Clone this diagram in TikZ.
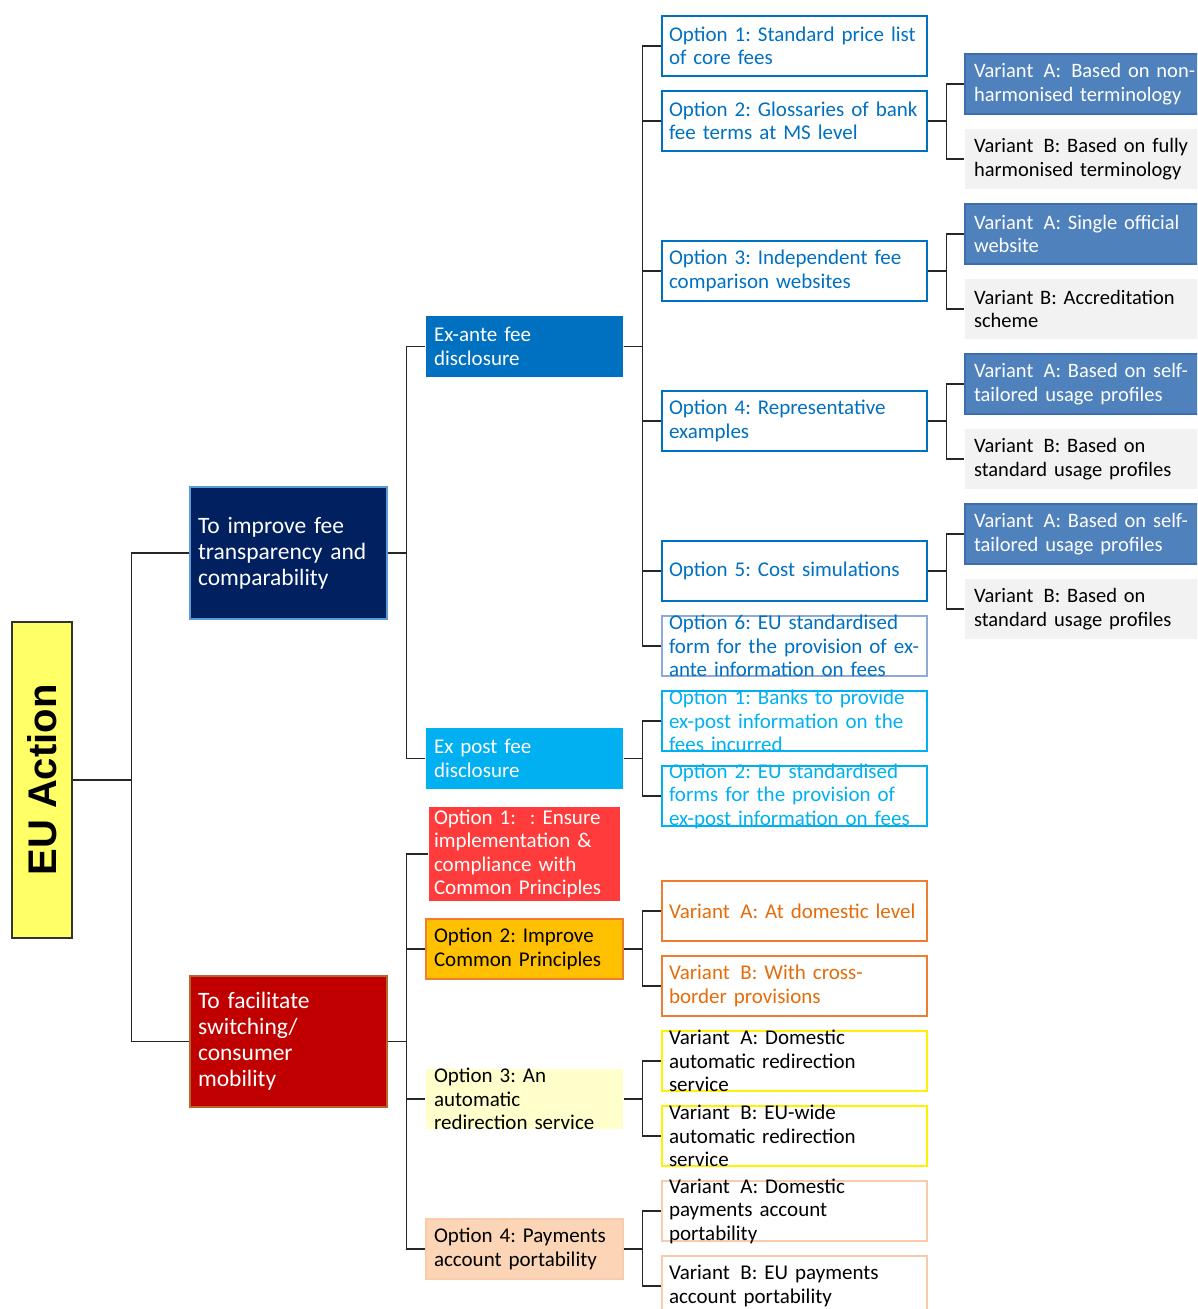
\documentclass[tikz,border=0pt]{standalone}
\usepackage{fontspec}
\setmainfont{Carlito}
\newfontfamily\eufont{Liberation Sans}
\usetikzlibrary{positioning}
\frenchspacing

\definecolor{euyellow}{HTML}{FFFF66}
\definecolor{navy}{HTML}{002060}
\definecolor{navyline}{HTML}{5B9BD5}
\definecolor{darkred}{HTML}{C00000}
\definecolor{redline}{HTML}{B7652B}
\definecolor{exante}{HTML}{0070C0}
\definecolor{expost}{HTML}{00B0F0}
\definecolor{optblue}{HTML}{0070C0}
\definecolor{optsix}{HTML}{8EAADB}
\definecolor{varblue}{HTML}{4F81BD}
\definecolor{varline}{HTML}{3C6DB0}
\definecolor{vargrey}{HTML}{F2F2F2}
\definecolor{brightred}{HTML}{FF3B3B}
\definecolor{amber}{HTML}{FFC000}
\definecolor{orangeline}{HTML}{ED7D31}
\definecolor{orangetxt}{HTML}{E46C0A}
\definecolor{paleyellow}{HTML}{FFFFCC}
\definecolor{peach}{HTML}{FBD5B5}
\definecolor{peachline}{HTML}{F8CBAD}

\tikzset{
  base/.style={inner sep=0pt, line width=1.2pt},
  txt/.style={inner sep=0pt, align=left, text width=251pt, font=\fontsize{21}{23.5}\selectfont},
  optbox/.style={base, minimum width=265pt, minimum height=60pt},
  opttxt/.style={txt, text=optblue},
  varbox/.style={base, minimum width=260pt, minimum height=60pt},
  vartxt/.style={txt, text width=242pt, font=\fontsize{20.5}{23.5}\selectfont},
  midbox/.style={base, minimum width=197pt, minimum height=61pt},
  midtxt/.style={txt, text width=181pt},
  objbox/.style={base, minimum width=197pt, minimum height=132pt},
  objtxt/.style={txt, text width=181pt, text=white, font=\fontsize{23.5}{26}\selectfont},
  conn/.style={draw=black!85, line width=1.2pt}
}

\begin{document}
\begin{tikzpicture}[x=1pt, y=-1pt]
    \useasboundingbox (0,0) rectangle (1197,1309);
    \clip (0,0) rectangle (1197,1309);

    % root
    \node[base, draw=black!80, fill=euyellow, minimum width=60pt, minimum height=316pt] (eu) at (42,780)
        {\rotatebox{90}{\eufont\bfseries\fontsize{40}{44}\selectfont EU Action}};

    % objectives
    \node[objbox, fill=navy, draw=navyline, label={[objtxt]center:{To improve fee\\transparency and\\comparability}}] (obj1) at (288.5,553) {};
    \node[objbox, fill=darkred, draw=redline, minimum height=131pt, label={[objtxt]center:{To facilitate\\switching/\\consumer\\mobility}}] (obj2) at (288.5,1041.5) {};

    % fee disclosure
    \node[midbox, fill=exante, label={[midtxt, text=white]center:{Ex-ante fee\\disclosure}}] (exante) at (524.5,346.5) {};
    \node[midbox, fill=expost, label={[midtxt, text=white]center:{Ex post fee\\disclosure}}] (expost) at (524.5,758.5) {};

    % ex-ante options
    \node[optbox, draw=optblue, label={[opttxt]center:{Option 1: Standard price list\\of core fees}}] (opt1) at (794.5,46) {};
    \node[optbox, draw=optblue, label={[opttxt]center:{Option 2: Glossaries of bank\\fee terms at MS level}}] (opt2) at (794.5,121) {};
    \node[optbox, draw=optblue, label={[opttxt]center:{Option 3: Independent fee\\comparison websites}}] (opt3) at (794.5,271) {};
    \node[optbox, draw=optblue, label={[opttxt]center:{Option 4: Representative\\examples}}] (opt4) at (794.5,421) {};
    \node[optbox, draw=optblue, label={[opttxt]center:{Option 5: Cost simulations}}] (opt5) at (794.5,571) {};
    \node[optbox, draw=optsix, label={[opttxt]center:{Option 6: EU standardised\\form for the provision of ex-\\ante information on fees}}] (opt6) at (794.5,646) {};

    % ex-post options
    \node[optbox, draw=expost, label={[txt, text=expost]center:{Option 1: Banks to provide\\ex-post information on the\\fees incurred}}] (ep1) at (794.5,721) {};
    \node[optbox, draw=expost, label={[txt, text=expost]center:{Option 2: EU standardised\\forms for the provision of\\ex-post information on fees}}] (ep2) at (794.5,796) {};

    % variants of ex-ante options
    \node[varbox, fill=varblue, draw=varline, label={[vartxt, text=white]center:{Variant\, A:\, Based on non-\\harmonised terminology}}] (v2a) at (1095,84) {};
    \node[varbox, fill=vargrey, label={[vartxt]center:{Variant\, B: Based on fully\\harmonised terminology}}] (v2b) at (1095,159) {};
    \node[varbox, fill=varblue, draw=varline, label={[vartxt, text=white]center:{Variant\, A: Single official\\website}}] (v3a) at (1095,234) {};
    \node[varbox, fill=vargrey, label={[vartxt]center:{Variant B: Accreditation\\scheme}}] (v3b) at (1095,309) {};
    \node[varbox, fill=varblue, draw=varline, label={[vartxt, text=white]center:{Variant\, A: Based on self-\\tailored usage profiles}}] (v4a) at (1095,384) {};
    \node[varbox, fill=vargrey, label={[vartxt]center:{Variant\, B: Based on\\standard usage profiles}}] (v4b) at (1095,459) {};
    \node[varbox, fill=varblue, draw=varline, label={[vartxt, text=white]center:{Variant\, A: Based on self-\\tailored usage profiles}}] (v5a) at (1095,534) {};
    \node[varbox, fill=vargrey, label={[vartxt]center:{Variant\, B: Based on\\standard usage profiles}}] (v5b) at (1095,609) {};

    % switching options
    \node[midbox, fill=brightred, minimum width=191pt, minimum height=94pt, label={[midtxt, text=white]center:{Option 1:~ : Ensure\\implementation \&\\compliance with\\Common Principles}}] (r1) at (524.5,854) {};
    \node[midbox, fill=amber, draw=orangeline, minimum height=60pt, label={[midtxt]center:{Option 2: Improve\\Common Principles}}] (r2) at (524.5,949) {};
    \node[midbox, fill=paleyellow, minimum height=60pt, label={[midtxt]center:{Option 3: An\\automatic\\redirection service}}] (r3) at (524.5,1099) {};
    \node[midbox, fill=peach, draw=peachline, minimum height=60pt, label={[midtxt]center:{Option 4: Payments\\account portability}}] (r4) at (524.5,1249) {};

    % variants of switching options
    \node[optbox, draw=orangeline, label={[txt, text=orangetxt]center:{Variant\, A: At domestic level}}] (r2a) at (794.5,911) {};
    \node[optbox, draw=orangeline, label={[txt, text=orangetxt]center:{Variant\, B: With cross-\\border provisions}}] (r2b) at (794.5,986) {};
    \node[optbox, draw=yellow, label={[txt]center:{Variant\, A: Domestic\\automatic redirection\\service}}] (r3a) at (794.5,1061) {};
    \node[optbox, draw=yellow, label={[txt]center:{Variant\, B: EU-wide\\automatic redirection\\service}}] (r3b) at (794.5,1136) {};
    \node[optbox, draw=peachline, label={[txt]center:{Variant\, A: Domestic\\payments account\\portability}}] (r4a) at (794.5,1211) {};
    \node[optbox, draw=peachline, label={[txt]center:{Variant\, B: EU payments\\account portability}}] (r4b) at (794.5,1286) {};

    % connectors
    \draw[conn] (eu.east) -- ++(59,0) |- (obj1.west);
    \draw[conn] (eu.east) -- ++(59,0) |- (obj2.west);
    \draw[conn] (obj1.east) -- ++(19,0) |- (exante.west);
    \draw[conn] (obj1.east) -- ++(19,0) |- (expost.west);
    \foreach \c in {opt1,opt2,opt3,opt4,opt5,opt6}
        \draw[conn] (exante.east) -- ++(19,0) |- (\c.west);
    \foreach \c in {ep1,ep2}
        \draw[conn] (expost.east) -- ++(19,0) |- (\c.west);
    \foreach \p/\c in {opt2/v2a,opt2/v2b,opt3/v3a,opt3/v3b,opt4/v4a,opt4/v4b,opt5/v5a,opt5/v5b}
        \draw[conn] (\p.east) -- ++(19,0) |- (\c.west);
    \foreach \c in {r1,r2,r3,r4}
        \draw[conn] (obj2.east) -- ++(19,0) |- (\c.west);
    \foreach \p/\c in {r2/r2a,r2/r2b,r3/r3a,r3/r3b,r4/r4a,r4/r4b}
        \draw[conn] (\p.east) -- ++(19,0) |- (\c.west);
\end{tikzpicture}
\end{document}
